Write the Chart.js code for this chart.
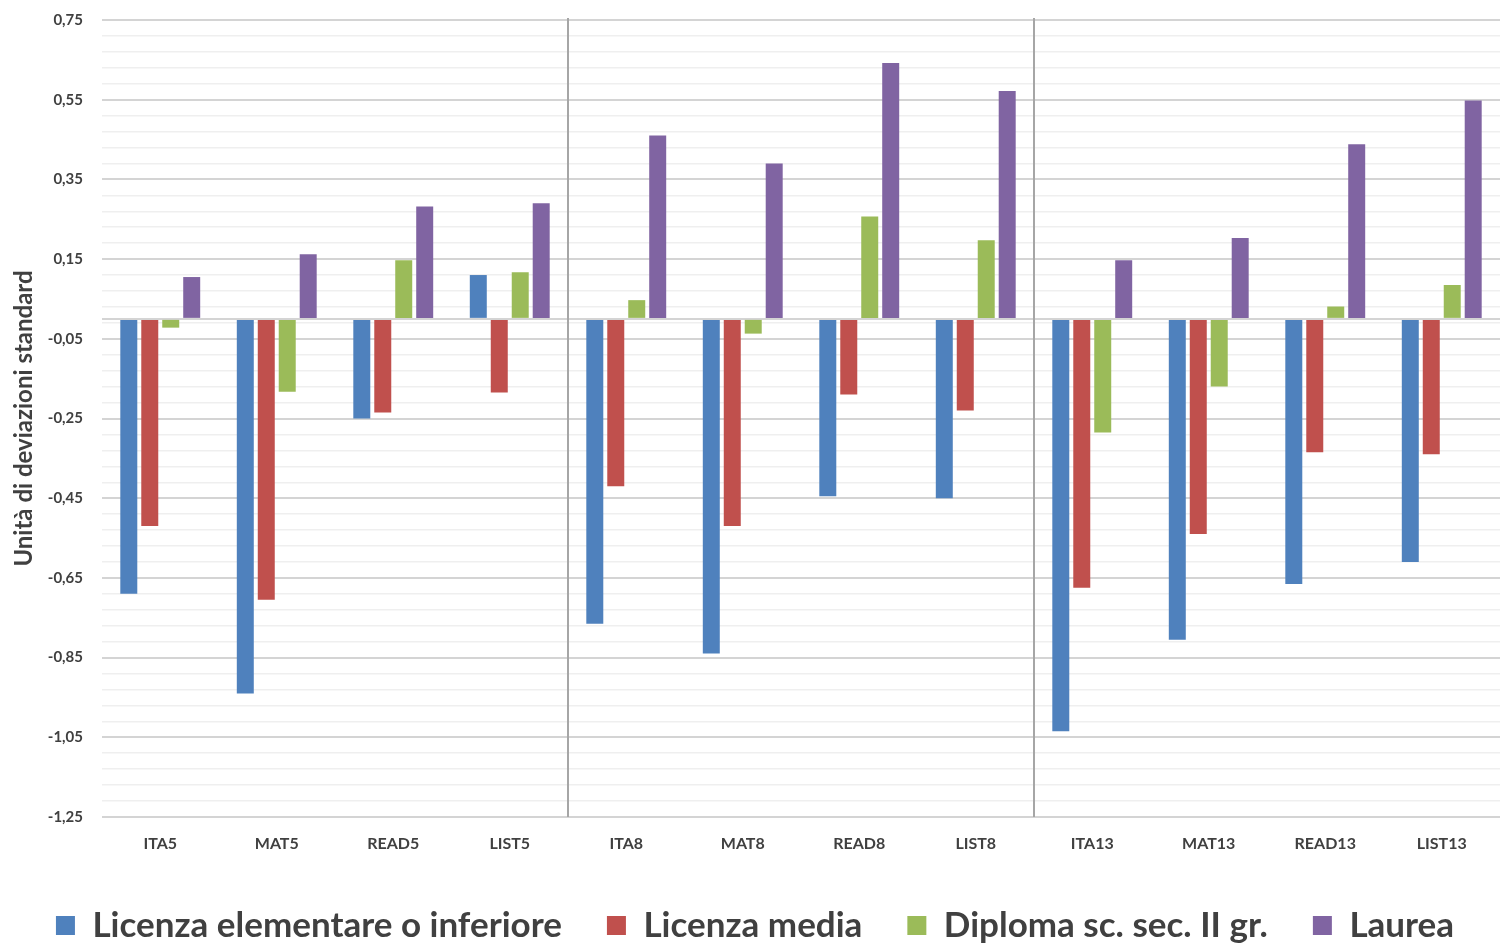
<!DOCTYPE html>
<html>
<head>
<meta charset="utf-8">
<script src="https://cdn.jsdelivr.net/npm/chart.js@4/dist/chart.umd.min.js"></script>
<style>
    html, body { margin: 0; padding: 0; background: #fff; }
    #wrap { width: 1500px; height: 943px; }
</style>
</head>
<body>
<div id="wrap"><canvas id="grafico"></canvas></div>
<script>
const categorie = ["ITA5", "MAT5", "READ5", "LIST5", "ITA8", "MAT8", "READ8", "LIST8", "ITA13", "MAT13", "READ13", "LIST13"];
const licenzaElementare = [-0.69, -0.94, -0.25, 0.11, -0.765, -0.84, -0.445, -0.45, -1.035, -0.805, -0.665, -0.61];
const licenzaMedia = [-0.52, -0.705, -0.235, -0.185, -0.42, -0.52, -0.19, -0.23, -0.675, -0.54, -0.335, -0.34];
const diploma = [-0.022, -0.183, 0.147, 0.117, 0.047, -0.037, 0.257, 0.197, -0.285, -0.17, 0.031, 0.085];
const laurea = [0.105, 0.162, 0.282, 0.29, 0.46, 0.39, 0.642, 0.572, 0.147, 0.203, 0.438, 0.548];
const tickPrincipali = [0.75, 0.55, 0.35, 0.15, -0.05, -0.25, -0.45, -0.65, -0.85, -1.05, -1.25];
const separatori = [4, 8];

const fontFamily = "Lato, 'Open Sans', sans-serif";
const grigioTesto = "#404040";

// righe di griglia: 4 righe secondarie fra due tick principali, piu' lo zero
function valoriGriglia() {
    const valori = [];
    for (let i = 0; i < tickPrincipali.length - 1; i++) {
        const passo = (tickPrincipali[i] - tickPrincipali[i + 1]) / 5;
        for (let k = 0; k < 5; k++) {
            valori.push(Math.round((tickPrincipali[i] - k * passo) * 1000) / 1000);
        }
    }
    valori.push(tickPrincipali[tickPrincipali.length - 1]);
    valori.push(0);
    return valori.sort((a, b) => a - b);
}

function isPrincipale(v) {
    return tickPrincipali.some((t) => Math.abs(t - v) < 1e-6);
}

const separatoriPlugin = {
    id: "separatori",
    afterDatasetsDraw(chart) {
        const { ctx, chartArea, scales } = chart;
        const x = scales.x;
        ctx.save();
        ctx.strokeStyle = "#a6a6a6";
        ctx.lineWidth = 2;
        for (const idx of separatori) {
            const px = (x.getPixelForValue(idx - 1) + x.getPixelForValue(idx)) / 2;
            ctx.beginPath();
            ctx.moveTo(px, chartArea.top - 2);
            ctx.lineTo(px, chartArea.bottom);
            ctx.stroke();
        }
        ctx.restore();
    },
};

new Chart(document.getElementById("grafico"), {
    type: "bar",
    data: {
        labels: categorie,
        datasets: [
            { label: "Licenza elementare o inferiore", data: licenzaElementare, backgroundColor: "#4F81BD" },
            { label: "Licenza media", data: licenzaMedia, backgroundColor: "#C0504D" },
            { label: "Diploma sc. sec. II gr.", data: diploma, backgroundColor: "#9BBB59" },
            { label: "Laurea", data: laurea, backgroundColor: "#8064A2" },
        ],
    },
    options: {
        responsive: true,
        maintainAspectRatio: false,
        animation: false,
        categoryPercentage: 0.72,
        barPercentage: 0.81,
        layout: { padding: { top: 20, right: 0, left: 10, bottom: 0 } },
        plugins: {
            tooltip: { enabled: false },
            legend: {
                position: "bottom",
                maxHeight: 80,
                labels: {
                    color: grigioTesto,
                    font: { family: fontFamily, size: 35, weight: "bold" },
                    boxWidth: 19,
                    boxHeight: 19,
                    padding: 45,
                },
            },
        },
        scales: {
            x: {
                border: { display: false },
                grid: { display: false },
                afterFit: (scale) => {
                    scale.height = 46;
                },
                ticks: {
                    color: grigioTesto,
                    font: { family: fontFamily, size: 16, weight: "bold" },
                    padding: 9,
                    maxRotation: 0,
                },
            },
            y: {
                min: -1.25,
                max: 0.75,
                border: { display: false },
                afterBuildTicks: (scale) => {
                    scale.ticks = valoriGriglia().map((v) => ({ value: v }));
                },
                afterFit: (scale) => {
                    scale.width = 92;
                    scale.paddingTop = 0;
                    scale.paddingBottom = 0;
                },
                grid: {
                    drawTicks: false,
                    color: (c) => (isPrincipale(c.tick.value) || c.tick.value === 0 ? "#d4d4d4" : "#efefef"),
                    lineWidth: (c) => (isPrincipale(c.tick.value) || c.tick.value === 0 ? 2 : 1.5),
                },
                ticks: {
                    autoSkip: false,
                    color: grigioTesto,
                    font: { family: fontFamily, size: 15, weight: "bold" },
                    padding: 19,
                    callback: (v) => (isPrincipale(v) ? v.toFixed(2).replace(".", ",") : ""),
                },
                title: {
                    display: true,
                    text: "Unità di deviazioni standard",
                    color: grigioTesto,
                    font: { family: fontFamily, size: 24, weight: "bold" },
                    padding: { top: 0, bottom: 4 },
                },
            },
        },
    },
    plugins: [separatoriPlugin],
});
</script>
</body>
</html>
